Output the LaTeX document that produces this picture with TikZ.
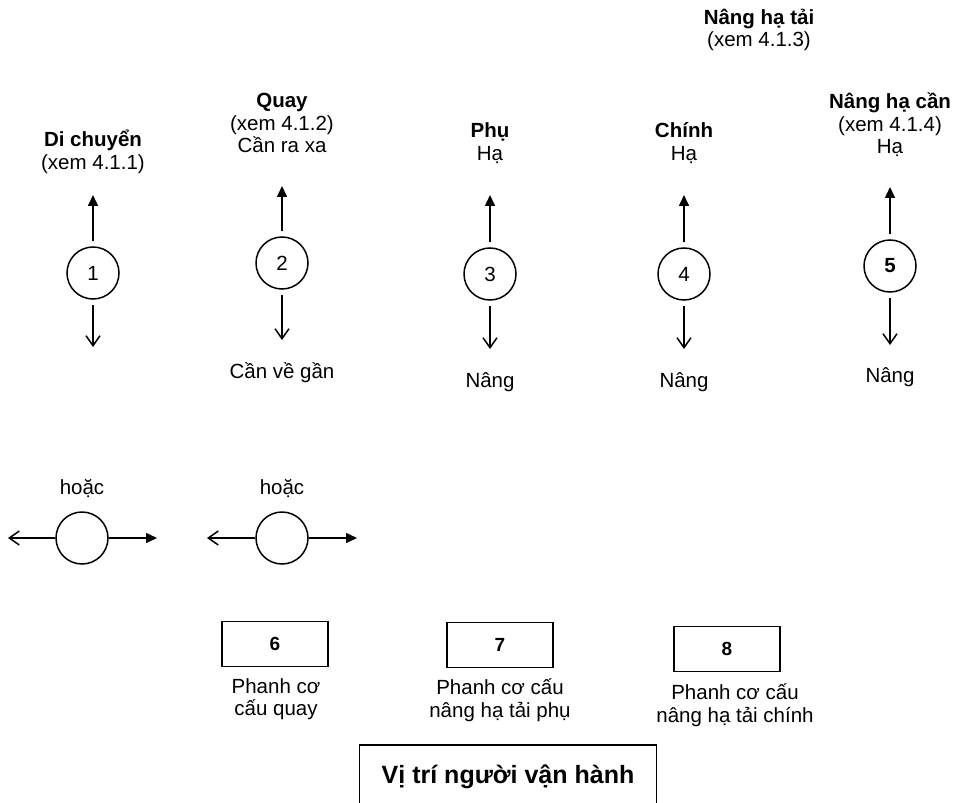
\documentclass[tikz,border=0pt]{standalone}
\usepackage{fontspec}
\setmainfont{Liberation Sans}
\usetikzlibrary{arrows.meta}

\begin{document}
\begin{tikzpicture}[x=1pt,y=-1pt,
  every node/.style={font=\fontsize{20.5}{22.5}\selectfont, align=center, inner sep=0pt},
  knob/.style={draw, circle, minimum size=52pt, line width=1.5pt},
  brakebox/.style={draw, minimum width=106pt, minimum height=45pt, line width=1.5pt,
    font=\bfseries\fontsize{19}{22}\selectfont},
  arrup/.style={-{Triangle[length=11pt,width=10pt]}, line width=1.6pt, shorten <=5pt},
  arrdown/.style={-{Straight Barb[length=10pt,width=14pt]}, line width=1.5pt, shorten <=5pt},
  arrfill/.style={-{Triangle[length=11pt,width=10pt]}, line width=1.6pt},
  arropen/.style={-{Straight Barb[length=10pt,width=14pt]}, line width=1.5pt},
  ]
\useasboundingbox (0,0) rectangle (957,802);
\clip (0,0) rectangle (957,802);

% group heading over the two hoists
\node (hoist) at (759,30) {\textbf{Nâng hạ tải}\\(xem 4.1.3)};

% control levers 1 to 5
\node[knob] (c1) at (93,273) {1};
\node[knob] (c2) at (282,263) {2};
\node[knob] (c3) at (490,274) {3};
\node[knob] (c4) at (684,274) {4};
\node[knob] (c5) at (890,266) {\textbf{5}};

\coordinate (t1) at (93,195);  \coordinate (d1) at (93,347);
\coordinate (t2) at (282,186); \coordinate (d2) at (282,340);
\coordinate (t3) at (490,195); \coordinate (d3) at (490,349);
\coordinate (t4) at (684,195); \coordinate (d4) at (684,349);
\coordinate (t5) at (890,187); \coordinate (d5) at (890,345);

\foreach \i in {1,...,5}{
  \draw[arrup] (c\i) -- (t\i);
  \draw[arrdown] (c\i) -- (d\i);
}

% labels above and below the levers
\node (u1) at (93,152) {\textbf{Di chuyển}\\(xem 4.1.1)};
\node (u2) at (282,123) {\textbf{Quay}\\(xem 4.1.2)\\Cần ra xa};
\node (u3) at (490,143) {\textbf{Phụ}\\Hạ};
\node (u4) at (684,143) {\textbf{Chính}\\Hạ};
\node (u5) at (890,125) {\textbf{Nâng hạ cần}\\(xem 4.1.4)\\Hạ};

\node (l2) at (282,373) {Cần về gần};
\node (l3) at (490,382) {Nâng};
\node (l4) at (684,382) {Nâng};
\node (l5) at (890,377) {Nâng};

% alternative horizontal levers
\node (h1) at (82,488) {hoặc};
\node (h2) at (282,488) {hoặc};
\node[knob] (k1) at (82,538) {};
\node[knob] (k2) at (282,538) {};
\coordinate (k1l) at (8,538);   \coordinate (k1r) at (157,538);
\coordinate (k2l) at (207,538); \coordinate (k2r) at (357,538);
\draw[arropen] (k1.west) -- (k1l);
\draw[arrfill] (k1.east) -- (k1r);
\draw[arropen] (k2.west) -- (k2l);
\draw[arrfill] (k2.east) -- (k2r);

% brake buttons
\node[brakebox] (b6) at (275,644) {6};
\node[brakebox] (b7) at (500,645) {7};
\node[brakebox] (b8) at (727,649) {8};
\node (p6) at (276,699) {Phanh cơ\\cấu quay};
\node (p7) at (500,700) {Phanh cơ cấu\\nâng hạ tải phụ};
\node (p8) at (735,705) {Phanh cơ cấu\\nâng hạ tải chính};

% operator position
\node[draw, line width=1.5pt, minimum width=297pt, minimum height=130pt, anchor=north]
  (opbox) at (508,744) {};
\node[font=\bfseries\fontsize{25}{28}\selectfont] (optext) at (508,777) {Vị trí người vận hành};
\end{tikzpicture}
\end{document}
